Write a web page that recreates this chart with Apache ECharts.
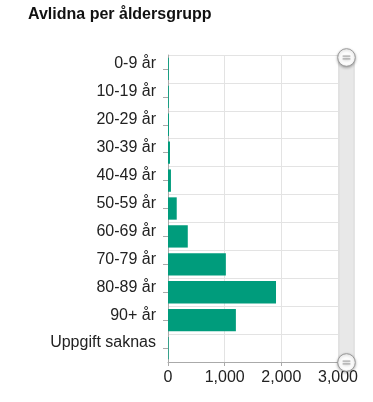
<!DOCTYPE html>
<html>
<head>
<meta charset="utf-8">
<script src="https://cdn.jsdelivr.net/npm/echarts@6/dist/echarts.min.js"></script>
<style>html,body{margin:0;padding:0;background:#fff}#c{width:373px;height:402px}</style>
</head>
<body>
<div id="c"></div>
<script>
const categories = ['0-9 år','10-19 år','20-29 år','30-39 år','40-49 år','50-59 år','60-69 år','70-79 år','80-89 år','90+ år','Uppgift saknas'];
const deaths = [15, 15, 17, 35, 52, 154, 349, 1021, 1906, 1198, 12];
const xTicks = [0, 1000, 2000, 3000];

const chart = echarts.init(document.getElementById('c'));
chart.setOption({
  animation: false,
  title: {
    text: 'Avlidna per åldersgrupp',
    left: 23, top: 2,
    textStyle: { fontFamily: 'Liberation Sans', fontSize: 16, fontWeight: 'bold', color: '#111' }
  },
  grid: { left: 168, right: 35, top: 55, bottom: 40, containLabel: false },
  xAxis: {
    type: 'value',
    min: xTicks[0], max: xTicks[xTicks.length - 1], interval: 1000,
    axisLine: { show: true, lineStyle: { color: '#aaa' } },
    axisTick: { show: true, length: 4, lineStyle: { color: '#aaa' } },
    splitLine: { show: true, lineStyle: { color: '#e3e3e3' } },
    axisLabel: { margin: 8, fontFamily: 'Liberation Sans', fontSize: 16, color: '#222',
      formatter: v => v.toLocaleString('en-US') }
  },
  yAxis: {
    type: 'category', inverse: true, data: categories,
    axisLine: { show: true, lineStyle: { color: '#aaa' } },
    axisTick: { show: true, alignWithLabel: true, length: 5, lineStyle: { color: '#aaa' } },
    splitLine: { show: true, lineStyle: { color: '#e3e3e3' } },
    axisLabel: { margin: 12, fontFamily: 'Liberation Sans', fontSize: 16, color: '#222', verticalAlign: 'bottom', lineHeight: 10 }
  },
  dataZoom: [{
    type: 'slider', orient: 'vertical', yAxisIndex: 0,
    right: 19, width: 16, top: 55, bottom: 40,
    start: 0, end: 100,
    showDetail: false, showDataShadow: false, brushSelect: false,
    moveHandleSize: 0,
    backgroundColor: '#e8e8e8', fillerColor: '#e8e8e8', borderColor: '#dcdcdc',
    handleIcon: 'path://M50,0 A50,50 0 1,1 50,100 A50,50 0 1,1 50,0 Z M42,28 L42,72 M58,28 L58,72',
    handleSize: '110%',
    handleStyle: { color: '#fff', borderColor: '#999', borderWidth: 1, shadowBlur: 3, shadowColor: 'rgba(0,0,0,0.3)', shadowOffsetY: 1 }
  }],
  series: [{
    type: 'bar', data: deaths, barCategoryGap: '20%',
    itemStyle: { color: '#009c7c' }
  }]
});
</script>
</body>
</html>
